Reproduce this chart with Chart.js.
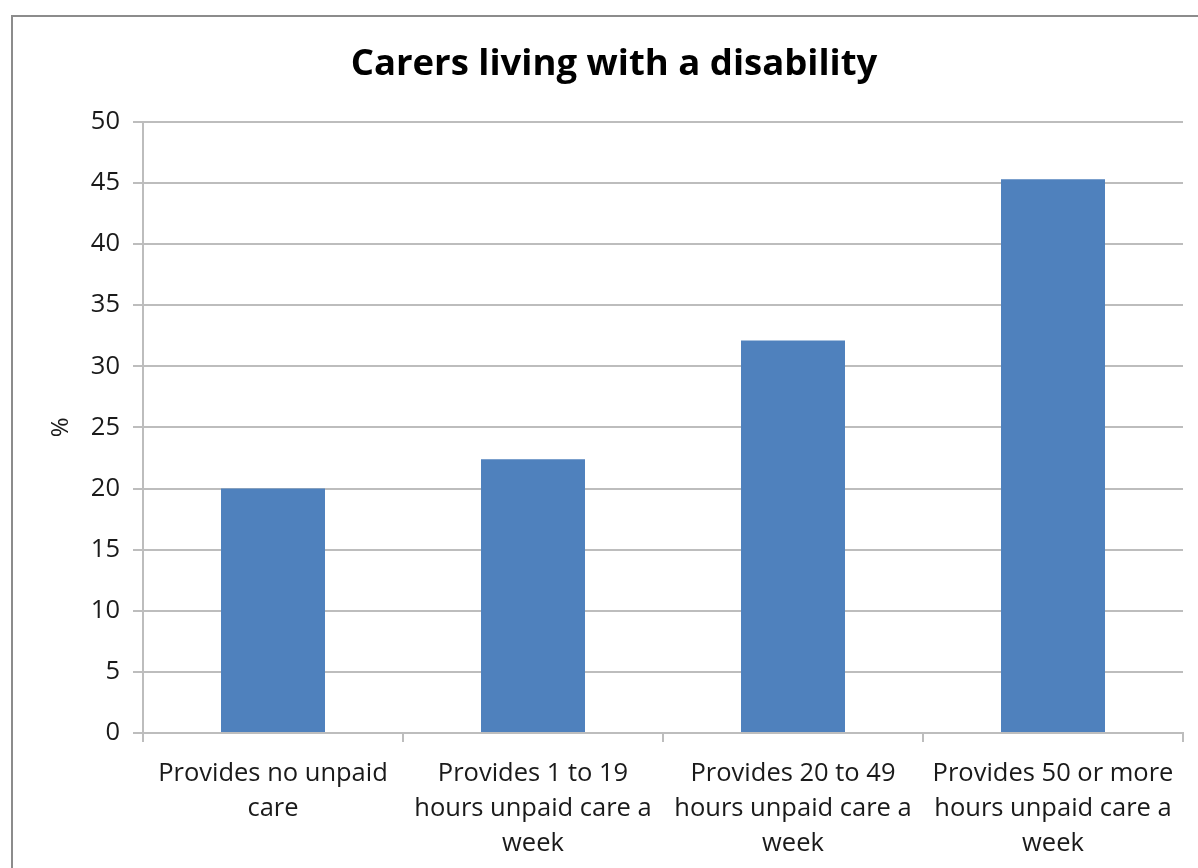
<!DOCTYPE html>
<html>
<head>
<meta charset="utf-8">
<title>Carers living with a disability</title>
<style>
    html, body { margin: 0; padding: 0; background: #fff; overflow: hidden; }
    #frame { position: absolute; left: 11px; top: 15px; width: 1200px; height: 900px; border: 2px solid #8c8c8c; box-sizing: border-box; }
    #chart { position: absolute; left: 0; top: 0; }
</style>
</head>
<body>
<div id="frame"></div>
<canvas id="chart" width="1198" height="868"></canvas>

<script src="https://cdn.jsdelivr.net/npm/chart.js@4.4.1/dist/chart.umd.min.js"></script>
<script>
// Data
const categories = [
    ['Provides no unpaid', 'care'],
    ['Provides 1 to 19', 'hours unpaid care a', 'week'],
    ['Provides 20 to 49', 'hours unpaid care a', 'week'],
    ['Provides 50 or more', 'hours unpaid care a', 'week']
];
const percentWithDisability = [20.0, 22.4, 32.1, 45.3];
const yTicks = [0, 5, 10, 15, 20, 25, 30, 35, 40, 45, 50];

const FONT = '"Open Sans", Lato, sans-serif';
const gridGrey = '#bdbdbd';

new Chart(document.getElementById('chart').getContext('2d'), {
    type: 'bar',
    data: {
        labels: categories,
        datasets: [{
            data: percentWithDisability,
            backgroundColor: '#4f81bd',
            borderWidth: 0,
            categoryPercentage: 1.0,
            barPercentage: 0.4
        }]
    },
    options: {
        responsive: false,
        animation: false,
        layout: { padding: { top: 15, left: 45, right: 15, bottom: 0 } },
        plugins: {
            legend: { display: false },
            tooltip: { enabled: false },
            title: {
                display: true,
                text: 'Carers living with a disability',
                color: '#000',
                font: { family: FONT, size: 36.5, weight: 'bold', lineHeight: 1.2 },
                padding: { top: 28, bottom: 35 }
            }
        },
        scales: {
            x: {
                offset: true,
                grid: { display: true, offset: true, drawOnChartArea: false, drawTicks: true, tickLength: 9, color: gridGrey, lineWidth: 2 },
                border: { display: true, color: gridGrey, width: 2 },
                ticks: {
                    color: '#1a1a1a',
                    font: { family: FONT, size: 25.5, lineHeight: 1.37 },
                    padding: 14,
                    maxRotation: 0,
                    minRotation: 0,
                    autoSkip: false
                },
                afterFit: scale => { scale.height = 135; }
            },
            y: {
                min: 0,
                max: 50,
                afterBuildTicks: scale => { scale.ticks = yTicks.map(v => ({ value: v })); },
                grid: { color: gridGrey, lineWidth: 2, tickLength: 10, drawTicks: true },
                border: { display: true, color: gridGrey, width: 2 },
                ticks: {
                    color: '#1a1a1a',
                    font: { family: FONT, size: 25.5 },
                    padding: 13
                },
                title: {
                    display: true,
                    text: '%',
                    color: '#1a1a1a',
                    font: { family: FONT, size: 24 },
                    padding: { top: 2, bottom: 0 }
                },
                afterFit: scale => { scale.width = 98; }
            }
        }
    }
});
</script>
</body>
</html>
